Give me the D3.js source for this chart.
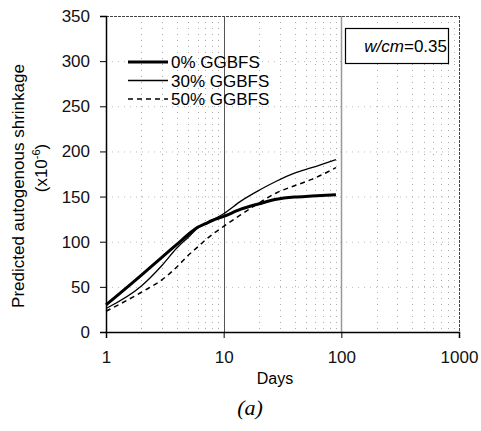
<!DOCTYPE html>
<html><head><meta charset="utf-8">
<script src="https://cdn.jsdelivr.net/npm/d3@7"></script>
<style>body{margin:0;background:#fff}svg{display:block}</style>
</head><body>
<script>
const days = [1,2,3,4,5,6,7,8,10,14,20,28,40,56,90];
const ggbfs0 = [30,63,83,97,108,116,120,123.5,128,136,142,147,149.5,150.5,152];
const ggbfs30 = [26,51,74,93,105,115,120,124,131,145,157,167,176,182,191];
const ggbfs50 = [23,44,58,72,85,94,102,108,117,130,143,154,162,169,182];
const seriesNames = ["0% GGBFS","30% GGBFS","50% GGBFS"];
const yTicks = [0,50,100,150,200,250,300,350];
const xTicks = [1,10,100,1000];

const W=481,H=431;
const m={l:106,r:459,t:16,b:332};
const svg=d3.select("body").append("svg").attr("width",W).attr("height",H);
const x=d3.scaleLog().domain([1,1000]).range([m.l,m.r]);
const y=d3.scaleLinear().domain([0,350]).range([m.b,m.t]);
const font="Liberation Sans, Arial, sans-serif";

// grid: horizontal
svg.append("g").selectAll("line").data(yTicks.filter(v=>v>0&&v<350)).join("line")
 .attr("x1",m.l).attr("x2",m.r).attr("y1",d=>y(d)+0.5).attr("y2",d=>y(d)+0.5)
 .attr("stroke","#bbb").attr("stroke-width",1).attr("stroke-dasharray","1,5");
// grid: vertical minor
const minor=[];
[1,10,100].forEach(b=>{for(let k=2;k<=9;k++)minor.push(b*k);});
svg.append("g").selectAll("line").data(minor).join("line")
 .attr("x1",d=>Math.round(x(d))+0.5).attr("x2",d=>Math.round(x(d))+0.5).attr("y1",m.t).attr("y2",m.b)
 .attr("stroke","#aaa").attr("stroke-width",1).attr("stroke-dasharray","1,5");
// major vertical
svg.append("g").selectAll("line").data([10,100]).join("line")
 .attr("x1",d=>Math.round(x(d))+0.5).attr("x2",d=>Math.round(x(d))+0.5).attr("y1",m.t).attr("y2",m.b)
 .attr("stroke",(d,i)=>i?"#999":"#555").attr("stroke-width",(d,i)=>i?1.5:1);
// frame top/right
svg.append("line").attr("x1",m.l).attr("x2",m.r).attr("y1",m.t+0.5).attr("y2",m.t+0.5)
 .attr("stroke","#444").attr("stroke-dasharray","3,1");
svg.append("line").attr("x1",m.r+0.5).attr("x2",m.r+0.5).attr("y1",m.t).attr("y2",m.b)
 .attr("stroke","#444").attr("stroke-dasharray","3,1");

// axes
const yAxis=d3.axisLeft(y).tickValues(yTicks).tickSize(6).tickPadding(10);
const gy=svg.append("g").attr("transform",`translate(${m.l},0)`).call(yAxis);
gy.select(".domain").attr("stroke","#000").attr("stroke-width",1.5);
gy.selectAll("text").attr("font-family",font).attr("font-size",17).attr("fill","#111");
const xAxis=d3.axisBottom(x).tickValues(xTicks).tickFormat(d3.format("d")).tickSize(6).tickPadding(13);
const gx=svg.append("g").attr("transform",`translate(0,${m.b})`).call(xAxis);
gx.select(".domain").attr("stroke","#000").attr("stroke-width",1.5);
gx.selectAll("text").attr("font-family",font).attr("font-size",17).attr("fill","#111");

// labels
svg.append("text").attr("x",275).attr("y",384).attr("text-anchor","middle")
 .attr("font-family",font).attr("font-size",16).text("Days");
svg.append("text").attr("transform","translate(24,186) rotate(-90)").attr("text-anchor","middle")
 .attr("font-family",font).attr("font-size",17).text("Predicted autogenous shrinkage");
const t2=svg.append("text").attr("transform","translate(47,168) rotate(-90)").attr("text-anchor","middle")
 .attr("font-family",font).attr("font-size",17);
t2.append("tspan").text("(x10");
t2.append("tspan").attr("font-size",11).attr("dy",-7).text("-6");
t2.append("tspan").attr("dy",7).text(")");
svg.append("text").attr("x",250).attr("y",415).attr("text-anchor","middle")
 .attr("font-family","Liberation Serif, Times New Roman, serif").attr("font-style","italic").attr("font-size",22).text("(a)");

// lines
const series=[ggbfs0,ggbfs30,ggbfs50];
const styles=[{w:3,d:null},{w:1.3,d:null},{w:1.5,d:"5,4"}];
const line=d3.line().x(d=>x(d[0])).y(d=>y(d[1])).curve(d3.curveMonotoneX);
series.forEach((s,i)=>{
 svg.append("path").datum(days.map((d,j)=>[d,s[j]])).attr("d",line)
  .attr("fill","none").attr("stroke","#000").attr("stroke-width",styles[i].w)
  .attr("stroke-dasharray",styles[i].d);
});

// legend
const lg=svg.append("g");
seriesNames.forEach((n,i)=>{
 const yy=62+i*18.5;
 lg.append("line").attr("x1",128).attr("x2",168).attr("y1",yy).attr("y2",yy)
  .attr("stroke","#000").attr("stroke-width",styles[i].w).attr("stroke-dasharray",styles[i].d);
 lg.append("text").attr("x",171).attr("y",yy+6).attr("font-family",font).attr("font-size",17).text(n);
});

// w/cm box
svg.append("rect").attr("x",345.5).attr("y",28.5).attr("width",103).attr("height",35)
 .attr("fill","#fff").attr("stroke","#000").attr("stroke-width",1.2);
const wt=svg.append("text").attr("x",447).attr("y",52).attr("text-anchor","end")
 .attr("font-family",font).attr("font-size",17);
wt.append("tspan").attr("font-style","italic").text("w/cm");
wt.append("tspan").text("=0.35");
</script>
</body></html>
